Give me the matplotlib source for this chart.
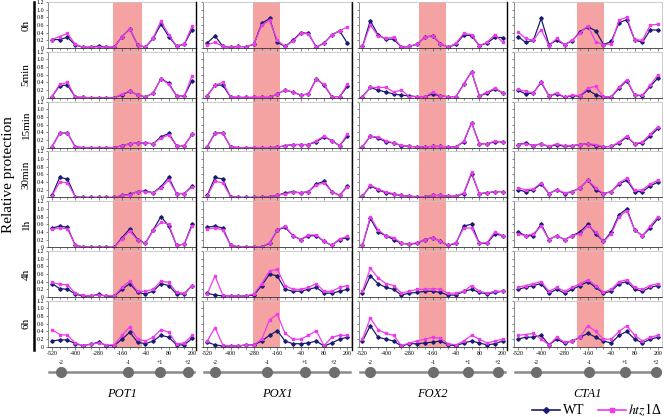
import matplotlib
matplotlib.use("Agg")
import matplotlib.pyplot as plt
from matplotlib.transforms import blended_transform_factory
from matplotlib.patches import Rectangle
from matplotlib.lines import Line2D

plt.rcParams['font.family'] = ['Liberation Serif', 'DejaVu Serif']
plt.rcParams['mathtext.fontset'] = 'stix'

# positions relative to ATG (bp)
positions = [-520, -480, -440, -400, -360, -320, -280, -240, -200, -160,
             -120, -80, -40, 0, 40, 80, 120, 160, 200]
tick_labels = [-520, -400, -280, -160, -40, 80, 200]
times = ["0h", "5min", "15min", "30min", "1h", "4h", "6h"]
genes = ["POT1", "POX1", "FOX2", "CTA1"]

# -1 nucleosome region (shaded) and nucleosome positions per gene
shade = [(-206, -57), (-285, -146), (-230, -91), (-216, -77)]
nuc_pos = [[-473, -129, 35, 179], [-480, -213, -18, 131],
           [-481, -158, 22, 176], [-426, -154, 31, 190]]
nuc_names = ["-2", "-1", "+1", "+2"]

# relative protection, one list per time point
POT1_WT = [
    [.22, .22, .28, .08, .02, .02, .05, .02, .02, .30, .50, .08, .02, .25, .62, .30, .05, .10, .48],
    [.03, .32, .33, .02, .01, .00, .00, .00, .00, .08, .17, .08, .02, .12, .50, .38, .05, .05, .45],
    [.02, .38, .38, .02, .00, .00, .00, .00, .00, .05, .10, .12, .12, .10, .28, .37, .05, .05, .35],
    [.05, .52, .48, .02, .00, .00, .00, .00, .00, .05, .08, .15, .17, .12, .28, .52, .10, .10, .30],
    [.50, .55, .52, .05, .01, .00, .00, .00, .00, .25, .48, .20, .10, .45, .80, .55, .05, .08, .60],
    [.35, .22, .20, .08, .02, .03, .07, .02, .02, .20, .35, .12, .08, .15, .35, .30, .08, .08, .30],
    [.15, .18, .18, .08, .03, .07, .12, .03, .03, .20, .38, .12, .08, .15, .30, .25, .05, .05, .22],
]
POT1_htz1 = [
    [.22, .30, .38, .10, .02, .02, .03, .02, .02, .30, .50, .08, .02, .27, .70, .35, .05, .10, .58],
    [.03, .35, .40, .02, .01, .00, .00, .00, .00, .10, .18, .07, .02, .12, .50, .35, .05, .05, .58],
    [.02, .37, .38, .02, .00, .00, .00, .00, .00, .05, .10, .12, .12, .10, .25, .33, .05, .05, .35],
    [.04, .40, .38, .02, .00, .00, .00, .00, .00, .05, .07, .15, .15, .12, .25, .45, .10, .10, .27],
    [.47, .50, .48, .05, .01, .00, .00, .00, .00, .22, .42, .18, .10, .45, .65, .60, .05, .08, .55],
    [.38, .33, .32, .10, .04, .03, .05, .03, .03, .25, .42, .15, .15, .20, .42, .38, .12, .10, .30],
    [.45, .32, .30, .10, .03, .07, .10, .05, .05, .30, .52, .20, .15, .25, .45, .38, .08, .10, .30],
]
POX1_WT = [
    [.13, .32, .04, .02, .04, .03, .10, .64, .77, .15, .04, .20, .40, .38, .02, .13, .34, .45, .12],
    [.05, .33, .33, .02, .01, .01, .01, .01, .01, .10, .20, .15, .07, .10, .50, .33, .03, .03, .30],
    [.02, .38, .38, .02, .00, .00, .00, .00, .00, .01, .05, .08, .08, .08, .15, .28, .18, .05, .30],
    [.05, .52, .48, .02, .00, .00, .00, .00, .02, .05, .12, .15, .12, .15, .35, .42, .15, .05, .30],
    [.52, .55, .50, .05, .01, .01, .01, .01, .10, .45, .52, .30, .20, .30, .30, .15, .05, .20, .25],
    [.10, .05, .03, .03, .02, .03, .05, .30, .60, .55, .20, .15, .15, .20, .25, .10, .10, .15, .20],
    [.12, .05, .02, .02, .02, .05, .05, .15, .30, .42, .15, .08, .08, .10, .15, .02, .10, .20, .25],
]
POX1_htz1 = [
    [.08, .15, .04, .02, .04, .03, .10, .60, .72, .20, .04, .18, .38, .37, .02, .12, .35, .45, .55],
    [.05, .33, .40, .02, .01, .01, .01, .01, .01, .10, .20, .15, .07, .10, .48, .35, .03, .03, .35],
    [.02, .37, .38, .02, .00, .00, .00, .00, .00, .01, .05, .08, .08, .08, .18, .30, .18, .05, .35],
    [.04, .42, .38, .02, .00, .00, .00, .00, .02, .05, .10, .13, .12, .15, .32, .38, .15, .05, .28],
    [.48, .50, .45, .05, .01, .01, .01, .01, .12, .45, .55, .30, .20, .32, .32, .15, .05, .22, .28],
    [.08, .55, .05, .03, .02, .03, .08, .35, .68, .72, .30, .20, .20, .25, .35, .15, .15, .25, .30],
    [.15, .50, .05, .02, .02, .05, .05, .20, .70, .85, .35, .20, .20, .30, .42, .03, .25, .30, .30],
]
FOX2_WT = [
    [.04, .71, .34, .23, .23, .02, .04, .10, .28, .32, .11, .02, .10, .34, .32, .06, .13, .28, .27],
    [.03, .27, .20, .15, .10, .07, .05, .03, .03, .10, .05, .03, .03, .36, .68, .05, .12, .23, .13],
    [.02, .30, .25, .15, .12, .05, .03, .02, .02, .03, .03, .02, .02, .15, .65, .10, .10, .15, .15],
    [.03, .30, .20, .12, .08, .05, .03, .02, .02, .05, .05, .03, .03, .10, .62, .10, .12, .15, .15],
    [.05, .75, .40, .30, .20, .10, .08, .10, .20, .25, .15, .05, .10, .55, .60, .10, .10, .35, .30],
    [.10, .55, .35, .25, .20, .05, .10, .12, .15, .15, .12, .05, .05, .15, .20, .12, .08, .12, .15],
    [.15, .55, .25, .20, .15, .02, .08, .08, .10, .12, .15, .05, .03, .10, .15, .10, .05, .08, .15],
]
FOX2_htz1 = [
    [.04, .60, .32, .25, .28, .02, .04, .10, .28, .32, .11, .02, .12, .38, .35, .06, .15, .35, .15],
    [.03, .27, .27, .27, .15, .20, .03, .03, .03, .15, .05, .03, .03, .35, .68, .05, .15, .25, .13],
    [.02, .30, .27, .18, .12, .06, .03, .02, .02, .03, .03, .02, .02, .17, .65, .10, .10, .17, .15],
    [.03, .32, .22, .14, .10, .05, .03, .02, .02, .05, .05, .03, .03, .12, .65, .10, .12, .15, .15],
    [.05, .80, .45, .30, .25, .10, .08, .12, .20, .25, .15, .05, .12, .50, .50, .10, .12, .40, .30],
    [.15, .75, .50, .35, .30, .10, .15, .20, .20, .22, .20, .10, .10, .15, .30, .15, .10, .15, .15],
    [.20, .75, .45, .35, .30, .03, .10, .15, .20, .25, .22, .08, .05, .15, .30, .20, .10, .15, .20],
]
CTA1_WT = [
    [.30, .15, .20, .77, .09, .20, .09, .19, .43, .55, .45, .09, .17, .66, .74, .21, .15, .47, .47],
    [.20, .10, .13, .40, .05, .10, .02, .05, .05, .20, .08, .02, .02, .25, .45, .07, .05, .30, .52],
    [.08, .12, .05, .10, .02, .08, .03, .05, .08, .10, .05, .02, .03, .12, .28, .10, .12, .30, .50],
    [.20, .15, .20, .35, .10, .20, .10, .15, .25, .45, .20, .10, .15, .35, .45, .15, .15, .30, .40],
    [.40, .30, .30, .60, .20, .30, .20, .30, .40, .60, .35, .15, .40, .85, 1.0, .45, .30, .50, .75],
    [.20, .25, .30, .35, .10, .20, .10, .20, .30, .40, .25, .10, .15, .35, .40, .20, .15, .25, .30],
    [.20, .25, .25, .30, .05, .20, .10, .15, .25, .35, .25, .15, .10, .30, .40, .20, .10, .20, .25],
]
CTA1_htz1 = [
    [.42, .25, .20, .48, .06, .25, .09, .20, .40, .58, .16, .09, .10, .73, .80, .22, .20, .60, .62],
    [.22, .17, .13, .42, .05, .13, .02, .07, .06, .25, .30, .02, .03, .28, .47, .07, .07, .33, .60],
    [.08, .10, .05, .10, .03, .10, .05, .05, .08, .10, .08, .02, .03, .15, .30, .10, .15, .35, .55],
    [.25, .20, .22, .38, .10, .20, .12, .15, .25, .45, .25, .10, .15, .38, .50, .18, .20, .35, .45],
    [.35, .30, .35, .55, .20, .30, .20, .30, .35, .55, .40, .15, .35, .80, .95, .45, .30, .55, .80],
    [.25, .30, .35, .40, .15, .25, .15, .25, .35, .45, .30, .12, .20, .40, .45, .25, .20, .30, .35],
    [.30, .32, .35, .20, .05, .25, .12, .15, .25, .55, .40, .20, .20, .40, .55, .30, .15, .25, .30],
]

wt_data = [POT1_WT, POX1_WT, FOX2_WT, CTA1_WT]
htz_data = [POT1_htz1, POX1_htz1, FOX2_htz1, CTA1_htz1]

W, H = 664, 417
navy = '#1b1b72'
magenta = '#ee3aee'
shade_col = '#f5a2a2'


def fx(px):
    return px / W


def fy(py):
    return 1 - py / H


fig = plt.figure(figsize=(W / 100, H / 100), dpi=100)

for c, gene in enumerate(genes):
    left = 48 + 155.3 * c
    for r, t in enumerate(times):
        bottom = 48 + 49.8 * r
        ax = fig.add_axes([fx(left), fy(bottom), 148 / W, 46 / H])
        ax.set_facecolor('none')
        ax.plot(positions, wt_data[c][r], color=navy, lw=0.9, marker='D', ms=1.8)
        ax.plot(positions, htz_data[c][r], color=magenta, lw=0.9, marker='s', ms=1.8)
        ax.set_xlim(-540, 220)
        ax.set_ylim(0, 1.2)
        ax.set_xticks(tick_labels)
        ax.set_xticks(positions, minor=True)
        ax.set_yticks([0, 0.2, 0.4, 0.6, 0.8, 1.0, 1.2])
        if c == 0:
            ax.set_yticklabels(['0', '0.2', '0.4', '0.6', '0.8', '1.0', '1.2'])
        else:
            ax.set_yticklabels([])
        if r == len(times) - 1:
            ax.set_xticklabels([str(v) for v in tick_labels])
        else:
            ax.set_xticklabels([])
        ax.tick_params(axis='both', which='both', direction='out', length=1.8,
                       width=0.5, color='#555555', labelsize=4.3, pad=1)
        ax.tick_params(axis='x', which='minor', length=1.2)
        ax.spines['left'].set_color('#777777')
        ax.spines['bottom'].set_color('#333333')
        ax.spines['top'].set_color('#c4c4c4')
        ax.spines['right'].set_color('#c4c4c4')
        for s in ax.spines.values():
            s.set_linewidth(0.6)
        if c == 0:
            fig.text(fx(26), fy(bottom - 23), t, rotation=90, ha='center',
                     va='center', fontsize=8)

    # shaded -1 nucleosome band across all rows
    trans = blended_transform_factory(ax.transData, fig.transFigure)
    s0, s1 = shade[c]
    fig.add_artist(Rectangle((s0, fy(347)), s1 - s0, (347 - 2) / H,
                             transform=trans, facecolor=shade_col,
                             edgecolor='none', zorder=-1))

    # nucleosome map
    yl = fy(372)
    ax.plot([-535, 212], [yl, yl], color='#8a8a8a', lw=1.8, transform=trans,
            clip_on=False)
    ax.plot(nuc_pos[c], [yl] * 4, 'o', ms=7, color='#6e6e6e', mec='#6e6e6e',
            transform=trans, clip_on=False)
    for p, name in zip(nuc_pos[c], nuc_names):
        ax.text(p, fy(362), name, fontsize=4.3, ha='center', va='center',
                transform=trans)
    tg = blended_transform_factory(ax.transAxes, fig.transFigure)
    ax.text(0.5, fy(394), gene, style='italic', fontsize=9, ha='center',
            va='center', transform=tg)

    # chart frame on the left of each column
    xf = 34 if c == 0 else left - 7
    fig.add_artist(Line2D([fx(xf), fx(xf)], [fy(2), fy(350)], color='black',
                          lw=1.8 if c == 0 else 1.0))

fig.text(fx(9), fy(175), "Relative protection", rotation=90, ha='center',
         va='center', fontsize=11)

handles = [Line2D([], [], color=navy, lw=1.2, marker='D', ms=3),
           Line2D([], [], color=magenta, lw=1.2, marker='s', ms=3)]
fig.legend(handles, ['WT', r'$\mathit{htz1}$Δ'], ncol=2, frameon=False,
           loc='center right', bbox_to_anchor=(fx(662), fy(410)),
           fontsize=10, handlelength=2.0, handletextpad=0.2,
           columnspacing=1.0, numpoints=1, borderaxespad=0, borderpad=0)

fig.savefig("out.png", dpi=100)
